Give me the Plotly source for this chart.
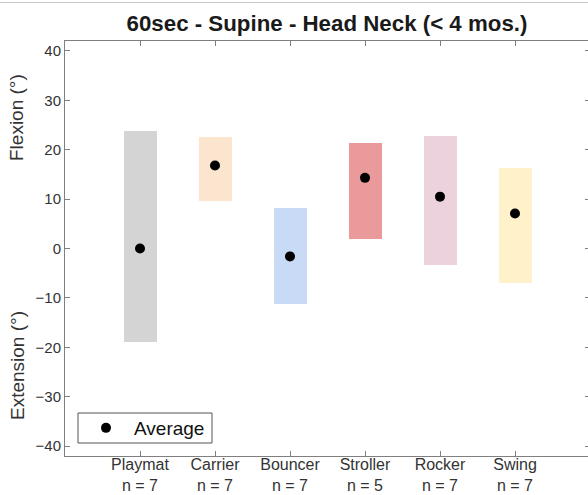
import plotly.graph_objects as go

categories = ["Playmat", "Carrier", "Bouncer", "Stroller", "Rocker", "Swing"]
n_counts = [7, 7, 7, 5, 7, 7]
upper = [23.7, 22.6, 8.2, 21.4, 22.8, 16.2]
lower = [-18.9, 9.7, -11.3, 2.0, -3.4, -6.9]
average = [0.0, 16.8, -1.6, 14.3, 10.5, 7.1]
colors = ["#d4d4d4", "#fbe5cf", "#c8daf6", "#ea9a9b", "#ebd2dd", "#fff1c9"]

positions = list(range(1, len(categories) + 1))
tick_text = [f"{c}<br>n = {n}" for c, n in zip(categories, n_counts)]

FONT = "Liberation Sans, Arial, Helvetica, sans-serif"
AXC = "#7f7f7f"
TXT = "#333333"

W, H = 590, 495
L, R, T, B = 65, 590, 41, 456
PW, PH = R - L, B - T


def px(x):
    return (x - L) / PW


def py(y):
    return (B - y) / PH


fig = go.Figure()
for p, lo, hi, col in zip(positions, lower, upper, colors):
    fig.add_trace(go.Bar(x=[p], y=[hi - lo], base=[lo], width=0.44,
                         marker=dict(color=col, line=dict(width=0)),
                         showlegend=False, hoverinfo="skip"))

fig.add_trace(go.Scatter(x=positions, y=average, mode="markers", name="Average",
                         marker=dict(color="black", size=10, symbol="circle")))

axis_common = dict(showline=True, linecolor=AXC, linewidth=1, mirror="ticks",
                   ticks="inside", ticklen=5, tickcolor=AXC, showgrid=False,
                   zeroline=False)

fig.update_layout(
    width=W, height=H,
    margin=dict(l=L, r=W - R, t=T, b=H - B, autoexpand=False),
    paper_bgcolor="white", plot_bgcolor="white",
    font=dict(family=FONT, color=TXT),
    title=dict(text="<b>60sec - Supine - Head Neck (< 4 mos.)</b>",
               font=dict(family=FONT, size=22.3, color="#1a1a1a"),
               x=327 / W, xanchor="center", y=1 - 23 / H, yanchor="middle"),
    xaxis=dict(range=[0, 7], tickvals=positions, ticktext=tick_text,
               tickfont=dict(family=FONT, size=16, color=TXT), **axis_common),
    yaxis=dict(range=[-42, 42], tickvals=list(range(-40, 41, 10)),
               tickfont=dict(family=FONT, size=15, color=TXT), **axis_common),
    showlegend=True,
    legend=dict(x=px(78), y=py(428), xanchor="left", yanchor="middle",
                borderwidth=0, bgcolor="rgba(0,0,0,0)",
                font=dict(family=FONT, size=19, color="#111111"),
                itemwidth=46, tracegroupgap=0),
    bargap=0,
)

fig.update_xaxes(ticklabelstandoff=-6)

fig.add_shape(type="rect", xref="paper", yref="paper", x0=px(78), x1=px(212), y0=py(443), y1=py(413),
              line=dict(color="#555555", width=1), fillcolor="white", layer="above")

fig.add_annotation(text="Flexion (°)", xref="paper", yref="paper", x=px(17), y=py(118),
                   textangle=-90, showarrow=False, xanchor="center", yanchor="middle",
                   font=dict(family=FONT, size=19, color=TXT))
fig.add_annotation(text="Extension (°)", xref="paper", yref="paper", x=px(17), y=py(366),
                   textangle=-90, showarrow=False, xanchor="center", yanchor="middle",
                   font=dict(family=FONT, size=19, color=TXT))

fig.add_shape(type="line", xref="paper", yref="paper", x0=px(0), x1=1, y0=py(2.5), y1=py(2.5),
              line=dict(color="#c8c8c8", width=1))

fig.write_html("out.html", config={"displayModeBar": False},
               post_script="document.body.style.margin='0';document.body.style.padding='0';"
                           "document.body.style.overflow='hidden';"
                           "document.documentElement.style.overflow='hidden';")
